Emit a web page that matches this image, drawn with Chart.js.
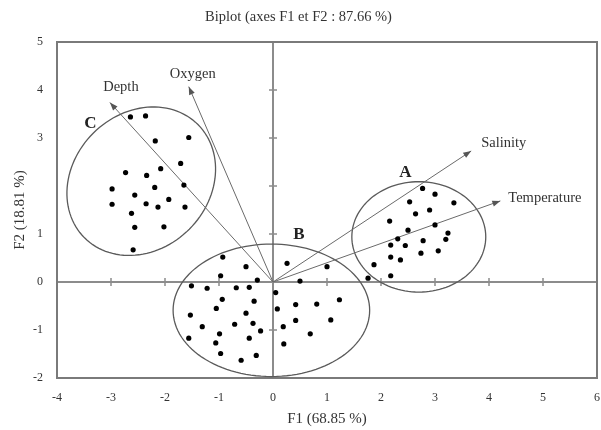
<!DOCTYPE html>
<html>
<head>
<meta charset="utf-8">
<script src="https://cdn.jsdelivr.net/npm/chart.js@4.4.1/dist/chart.umd.min.js"></script>
<style>
  html, body { margin: 0; padding: 0; background: #fff; }
</style>
</head>
<body>
<canvas id="biplot" width="601" height="430"></canvas>
<script>
// observations, by group (F1 / F2 scores)
const groupA_F1 = [2.77, 3.00, 2.53, 3.35, 2.90, 2.64, 2.16, 3.00, 2.50, 3.24, 2.31, 3.20, 2.78, 2.18, 2.45, 3.06, 2.74, 2.18, 2.36, 1.87, 1.76, 2.18];
const groupA_F2 = [1.95, 1.83, 1.67, 1.65, 1.50, 1.42, 1.27, 1.19, 1.08, 1.02, 0.90, 0.89, 0.86, 0.77, 0.76, 0.65, 0.60, 0.52, 0.46, 0.36, 0.08, 0.13];

const groupB_F1 = [-0.93, -0.50, 0.26, 1.00, -0.97, -0.29, 0.50, -1.51, -1.22, -0.68, -0.44, 0.05, -0.94, -0.35, 0.42, 0.81, 1.23, -1.05, 0.08, -1.53, -0.50, 0.42, 1.07, -1.31, -0.71, -0.37, -0.23, 0.19, -0.99, 0.69, -1.56, -0.44, -1.06, 0.20, -0.97, -0.31, -0.59];
const groupB_F2 = [0.52, 0.32, 0.39, 0.32, 0.13, 0.04, 0.02, -0.08, -0.13, -0.12, -0.11, -0.22, -0.36, -0.40, -0.47, -0.46, -0.37, -0.55, -0.56, -0.69, -0.65, -0.80, -0.79, -0.93, -0.88, -0.86, -1.02, -0.93, -1.08, -1.08, -1.17, -1.17, -1.27, -1.29, -1.49, -1.53, -1.63];

const groupC_F1 = [-2.64, -2.36, -2.18, -1.56, -1.71, -2.73, -2.34, -2.08, -1.65, -2.98, -2.19, -2.56, -1.93, -2.98, -2.35, -2.13, -1.63, -2.62, -2.56, -2.02, -2.59];
const groupC_F2 = [3.44, 3.46, 2.94, 3.01, 2.47, 2.28, 2.22, 2.36, 2.02, 1.94, 1.97, 1.81, 1.72, 1.62, 1.63, 1.56, 1.56, 1.43, 1.14, 1.15, 0.67];

// variables (arrow tips)
const varNames = ['Depth', 'Oxygen', 'Salinity', 'Temperature'];
const varF1 = [-3.02, -1.56, 3.67, 4.21];
const varF2 = [3.74, 4.07, 2.73, 1.69];

// groups: label spot and ellipse (centre + two half-axis vectors, in F1/F2 units)
const clusterNames = ['A', 'B', 'C'];
const clusterLabelF1 = [2.45, 0.48, -3.38];
const clusterLabelF2 = [2.27, 0.98, 3.31];
const ellipseCx = [2.70, -0.03, -2.44];
const ellipseCy = [0.94, -0.59, 2.10];
const ellipseU = [[1.24, 0], [1.82, 0], [1.05, 1.18]];
const ellipseV = [[0, 1.15], [0, 1.38], [-0.89, 1.00]];

// axis ticks
const xTicks = [-4, -3, -2, -1, 0, 1, 2, 3, 4, 5, 6];
const yTicks = [-2, -1, 0, 1, 2, 3, 4, 5];
const yHidden = [2];

const serif = "'Liberation Serif', 'DejaVu Serif', serif";

function pts(xs, ys) {
  return xs.map((x, i) => ({ x: x, y: ys[i] }));
}

const pointStyle = { pointRadius: 2.6, pointHoverRadius: 2.6, backgroundColor: '#000', borderWidth: 0 };

const datasets = [
  Object.assign({ data: pts(groupA_F1, groupA_F2) }, pointStyle),
  Object.assign({ data: pts(groupB_F1, groupB_F2) }, pointStyle),
  Object.assign({ data: pts(groupC_F1, groupC_F2) }, pointStyle)
];
varNames.forEach((n, i) => {
  datasets.push({
    label: n,
    data: [{ x: 0, y: 0 }, { x: varF1[i], y: varF2[i] }],
    showLine: true,
    borderColor: '#6a6a6a',
    borderWidth: 1,
    pointRadius: 0,
    pointHoverRadius: 0
  });
});

// frame, zero axes with tick marks, ellipses
const decorations = {
  id: 'decorations',
  beforeDatasetsDraw(chart) {
    const { ctx, chartArea: a, scales: { x, y } } = chart;
    const x0 = x.getPixelForValue(0), y0 = y.getPixelForValue(0);
    ctx.save();
    ctx.strokeStyle = '#8c8c8c';
    ctx.lineWidth = 2;
    ctx.beginPath();
    ctx.moveTo(a.left, y0); ctx.lineTo(a.right, y0);
    ctx.moveTo(x0, a.top); ctx.lineTo(x0, a.bottom);
    ctx.stroke();
    ctx.lineWidth = 1.5;
    ctx.beginPath();
    xTicks.forEach(v => {
      if (v === 0 || v === xTicks[0] || v === xTicks[xTicks.length - 1]) return;
      const px = x.getPixelForValue(v);
      ctx.moveTo(px, y0 - 4); ctx.lineTo(px, y0 + 4);
    });
    yTicks.forEach(v => {
      if (v === 0 || v === yTicks[0]) return;
      const py = y.getPixelForValue(v);
      ctx.moveTo(x0 - 4, py); ctx.lineTo(x0 + 4, py);
    });
    ctx.stroke();

    ctx.strokeStyle = '#7a7a7a';
    ctx.lineWidth = 2;
    ctx.strokeRect(a.left, a.top, a.right - a.left, a.bottom - a.top);

    // ellipses
    ctx.strokeStyle = '#5a5a5a';
    ctx.lineWidth = 1.3;
    ellipseCx.forEach((cx, k) => {
      ctx.beginPath();
      for (let s = 0; s <= 120; s++) {
        const t = s / 120 * Math.PI * 2;
        const dx = cx + Math.cos(t) * ellipseU[k][0] + Math.sin(t) * ellipseV[k][0];
        const dy = ellipseCy[k] + Math.cos(t) * ellipseU[k][1] + Math.sin(t) * ellipseV[k][1];
        const px = x.getPixelForValue(dx), py = y.getPixelForValue(dy);
        if (s === 0) ctx.moveTo(px, py); else ctx.lineTo(px, py);
      }
      ctx.closePath();
      ctx.stroke();
    });
    ctx.restore();
  },
  afterDatasetsDraw(chart) {
    const { ctx, scales: { x, y } } = chart;
    const x0 = x.getPixelForValue(0), y0 = y.getPixelForValue(0);
    ctx.save();
    // arrow heads
    ctx.fillStyle = '#555';
    varNames.forEach((n, i) => {
      const tx = x.getPixelForValue(varF1[i]), ty = y.getPixelForValue(varF2[i]);
      const ang = Math.atan2(ty - y0, tx - x0);
      ctx.save();
      ctx.translate(tx, ty);
      ctx.rotate(ang);
      ctx.beginPath();
      ctx.moveTo(0, 0);
      ctx.lineTo(-8, -3);
      ctx.lineTo(-8, 3);
      ctx.closePath();
      ctx.fill();
      ctx.restore();
    });
    // variable names
    const offs = { Depth: [11, -15, 'center'], Oxygen: [4, -12, 'center'], Salinity: [10, -8, 'left'], Temperature: [8, -3, 'left'] };
    ctx.fillStyle = '#333';
    ctx.font = '14.5px ' + serif;
    ctx.textBaseline = 'middle';
    varNames.forEach((n, i) => {
      const o = offs[n];
      ctx.textAlign = o[2];
      ctx.fillText(n, x.getPixelForValue(varF1[i]) + o[0], y.getPixelForValue(varF2[i]) + o[1]);
    });
    // group letters
    ctx.font = 'bold 17px ' + serif;
    ctx.fillStyle = '#222';
    ctx.textAlign = 'center';
    clusterNames.forEach((n, i) => {
      ctx.fillText(n, x.getPixelForValue(clusterLabelF1[i]), y.getPixelForValue(clusterLabelF2[i]));
    });
    ctx.restore();
  }
};

const ctx = document.getElementById('biplot').getContext('2d');
new Chart(ctx, {
  type: 'scatter',
  data: { datasets: datasets },
  options: {
    responsive: false,
    animation: false,
    devicePixelRatio: 1,
    layout: { padding: { left: 0, right: 4, top: 0, bottom: 0 } },
    plugins: {
      legend: { display: false },
      tooltip: { enabled: false },
      title: {
        display: true,
        text: 'Biplot (axes F1 et F2 : 87.66 %)',
        color: '#333',
        font: { family: serif, size: 14.5, weight: 'normal' },
        padding: { top: 8, bottom: 16.6 }
      }
    },
    scales: {
      x: {
        type: 'linear',
        min: xTicks[0],
        max: xTicks[xTicks.length - 1],
        afterBuildTicks: s => { s.ticks = xTicks.map(v => ({ value: v })); },
        afterFit: s => { s.height = 52; s.paddingLeft = 0; s.paddingRight = 0; },
        grid: { display: false, drawTicks: false },
        border: { display: false },
        ticks: { color: '#333', padding: 13, font: { family: serif, size: 12 } },
        title: {
          display: true,
          text: 'F1 (68.85 %)',
          color: '#333',
          font: { family: serif, size: 15 },
          padding: { top: 0, bottom: 2 }
        }
      },
      y: {
        type: 'linear',
        min: yTicks[0],
        max: yTicks[yTicks.length - 1],
        afterBuildTicks: s => { s.ticks = yTicks.map(v => ({ value: v })); },
        afterFit: s => { s.width = 57; s.paddingTop = 0; s.paddingBottom = 0; },
        grid: { display: false, drawTicks: false },
        border: { display: false },
        ticks: {
          color: '#333',
          padding: 14,
          font: { family: serif, size: 12 },
          callback: v => (yHidden.includes(v) ? '' : v)
        },
        title: {
          display: true,
          text: 'F2 (18.81 %)',
          color: '#333',
          font: { family: serif, size: 15 },
          padding: { top: 11, bottom: 0 }
        }
      }
    }
  },
  plugins: [decorations]
});
</script>
</body>
</html>
